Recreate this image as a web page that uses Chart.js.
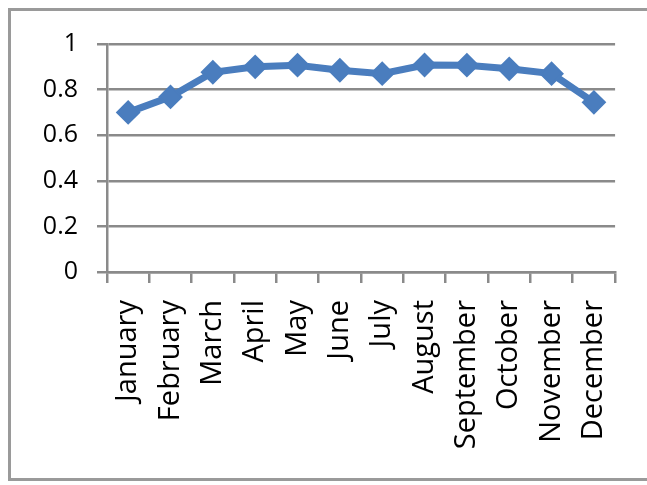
<!DOCTYPE html>
<html>
<head>
<meta charset="utf-8">
<title>Monthly ratio</title>
<script src="https://cdn.jsdelivr.net/npm/chart.js@4/dist/chart.umd.min.js"></script>
<style>
    html, body {
        margin: 0;
        padding: 0;
        background: #ffffff;
        overflow: hidden;
    }
</style>
</head>
<body>
<canvas id="ratioChart" width="647" height="485"></canvas>
<script>
const months = ['January', 'February', 'March', 'April', 'May', 'June',
    'July', 'August', 'September', 'October', 'November', 'December'];
const ratios = [0.70, 0.768, 0.876, 0.90, 0.907, 0.885, 0.87, 0.908, 0.907, 0.891, 0.87, 0.744];
const yTickLabels = ['0', '0.2', '0.4', '0.6', '0.8', '1'];

// gray outline round the chart; it runs off the right edge of the canvas
const frameOutline = {
    id: 'frameOutline',
    beforeDraw: function (chart) {
        const c = chart.ctx;
        c.save();
        c.strokeStyle = '#9a9a9a';
        c.lineWidth = 3;
        c.beginPath();
        c.moveTo(chart.width + 5, 9.5);
        c.lineTo(9.5, 9.5);
        c.lineTo(9.5, 479.5);
        c.lineTo(chart.width + 5, 479.5);
        c.stroke();
        c.restore();
    }
};

document.addEventListener('DOMContentLoaded', function () {
    const ctx = document.getElementById('ratioChart').getContext('2d');
    const axisGray = '#8a8a8a';

    new Chart(ctx, {
        type: 'line',
        data: {
            labels: months,
            datasets: [{
                data: ratios,
                borderColor: '#4a7dbe',
                backgroundColor: '#4a7dbe',
                borderWidth: 7,
                pointStyle: 'rectRot',
                pointRadius: 11,
                pointBorderWidth: 2,
                pointBorderColor: '#4a7dbe',
                pointBackgroundColor: '#4a7dbe',
                tension: 0
            }]
        },
        options: {
            responsive: false,
            animation: false,
            layout: {
                padding: { top: 44, right: 31, bottom: 0, left: 0 }
            },
            plugins: {
                legend: { display: false },
                tooltip: { enabled: false }
            },
            scales: {
                x: {
                    offset: true,
                    grid: {
                        offset: true,
                        drawOnChartArea: false,
                        drawTicks: true,
                        tickLength: 11,
                        color: axisGray,
                        lineWidth: 2.5
                    },
                    border: { color: axisGray, width: 2.5 },
                    ticks: {
                        autoSkip: false,
                        minRotation: 90,
                        maxRotation: 90,
                        padding: 17,
                        color: '#000000',
                        font: { family: 'Open Sans', size: 29 }
                    },
                    afterFit: function (scale) {
                        scale.height = 213;
                    }
                },
                y: {
                    min: 0,
                    max: 1,
                    ticks: {
                        stepSize: 0.2,
                        padding: 19,
                        color: '#000000',
                        font: { family: 'Open Sans', size: 25 },
                        callback: function (value, index) {
                            return yTickLabels[index];
                        }
                    },
                    grid: {
                        color: axisGray,
                        lineWidth: 2.5,
                        tickLength: 10
                    },
                    border: { color: axisGray, width: 2.5 },
                    afterFit: function (scale) {
                        scale.width = 107;
                    }
                }
            }
        },
        plugins: [frameOutline]
    });
});
</script>
</body>
</html>
